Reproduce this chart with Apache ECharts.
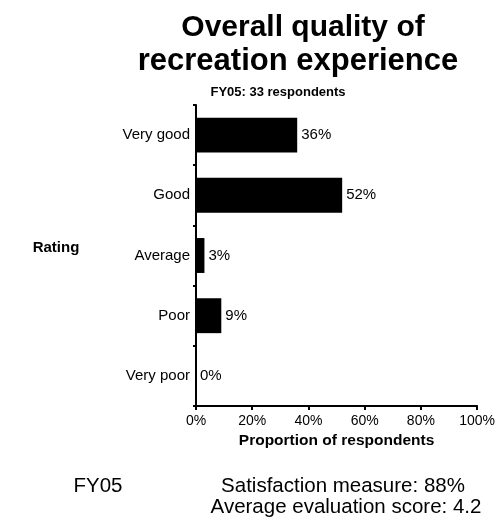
<!DOCTYPE html>
<html>
<head>
<meta charset="utf-8">
<script src="https://cdn.jsdelivr.net/npm/echarts@6/dist/echarts.min.js"></script>
<style>
html,body{margin:0;padding:0;background:#fff;}
#main{width:498px;height:521px;}
</style>
</head>
<body>
<div id="main"></div>
<script>
const categories = ['Very good', 'Good', 'Average', 'Poor', 'Very poor'];
const proportions = [36, 52, 3, 9, 0];
const xTicks = [0, 20, 40, 60, 80, 100];
const titleLines = ['Overall quality of', 'recreation experience'];
const subtitle = 'FY05: 33 respondents';
const yAxisTitle = 'Rating';
const xAxisTitle = 'Proportion of respondents';
const periodLabel = 'FY05';
const summaryLines = ['Satisfaction measure: 88%', 'Average evaluation score: 4.2'];

const FONT = 'Liberation Sans, Arial, sans-serif';
const chart = echarts.init(document.getElementById('main'), null, {renderer: 'canvas'});

chart.setOption({
  backgroundColor: '#fff',
  animation: false,
  textStyle: {fontFamily: FONT, color: '#000'},
  grid: {left: 196, right: 18, top: 105, bottom: 115, containLabel: false},
  xAxis: {
    type: 'value',
    min: xTicks[0], max: xTicks[xTicks.length - 1], interval: xTicks[1] - xTicks[0],
    name: xAxisTitle, nameLocation: 'middle', nameGap: 27,
    nameTextStyle: {fontFamily: FONT, fontWeight: 'bold', fontSize: 15.5, color: '#000'},
    axisLine: {show: true, lineStyle: {color: '#000', width: 2}},
    axisTick: {show: true, length: 4, lineStyle: {color: '#000', width: 2}},
    axisLabel: {formatter: '{value}%', fontFamily: FONT, fontSize: 14, color: '#000', margin: 8},
    splitLine: {show: false}
  },
  yAxis: {
    type: 'category', data: categories, inverse: true,
    axisLine: {show: true, lineStyle: {color: '#000', width: 2}},
    axisTick: {show: true, length: 3, lineStyle: {color: '#000', width: 2}},
    axisLabel: {fontFamily: FONT, fontSize: 15, color: '#000', margin: 6}
  },
  series: [{
    type: 'bar',
    data: proportions,
    barWidth: '58%',
    itemStyle: {color: '#000'},
    label: {show: true, position: 'right', distance: 4, formatter: '{c}%',
            fontFamily: FONT, fontSize: 15, color: '#000'}
  }],
  graphic: [
    {type: 'text', x: 303, y: 28, style: {text: titleLines[0], font: 'bold 30px ' + FONT, fill: '#000', align: 'center', verticalAlign: 'middle'}},
    {type: 'text', x: 298, y: 61, style: {text: titleLines[1], font: 'bold 31px ' + FONT, fill: '#000', align: 'center', verticalAlign: 'middle'}},
    {type: 'text', x: 278, y: 92, style: {text: subtitle, font: 'bold 13px ' + FONT, fill: '#000', align: 'center', verticalAlign: 'middle'}},
    {type: 'text', x: 56, y: 248, style: {text: yAxisTitle, font: 'bold 15px ' + FONT, fill: '#000', align: 'center', verticalAlign: 'middle'}},
    {type: 'text', x: 98, y: 486, style: {text: periodLabel, font: '20.5px ' + FONT, fill: '#000', align: 'center', verticalAlign: 'middle'}},
    {type: 'text', x: 343, y: 486, style: {text: summaryLines[0], font: '20.5px ' + FONT, fill: '#000', align: 'center', verticalAlign: 'middle'}},
    {type: 'text', x: 346, y: 507, style: {text: summaryLines[1], font: '20.5px ' + FONT, fill: '#000', align: 'center', verticalAlign: 'middle'}}
  ]
});
</script>
</body>
</html>
